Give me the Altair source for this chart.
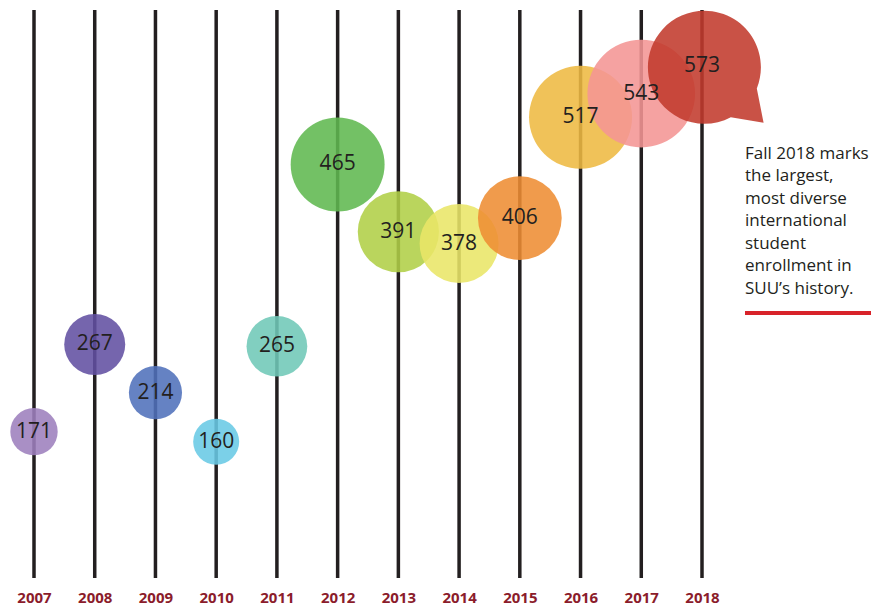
import altair as alt
import pandas as pd

years = [2007, 2008, 2009, 2010, 2011, 2012, 2013, 2014, 2015, 2016, 2017, 2018]
enrollment = [171, 267, 214, 160, 265, 465, 391, 378, 406, 517, 543, 573]
colors = ["#9d80bd", "#6250a2", "#5071bb", "#69cae5", "#6fc8b7", "#60b850",
          "#b0cf47", "#e9e668", "#ee8d33", "#eeb942", "#f49594", "#c13a2c"]
note_lines = ["Fall 2018 marks", "the largest,", "most diverse", "international",
              "student", "enrollment in", "SUU\u2019s history."]

df = pd.DataFrame({"year": years, "enrollment": enrollment})

# speech-bubble symbol for the highlighted year (unit circle + tail)
BUBBLE = "M0.97,0.39 L1.09,1.0 L0.51,0.9 A1,1,0,1,1,0.97,0.39 Z"

xs = alt.Scale(domain=[2007, 2018], nice=False, zero=False)
ys = alt.Scale(domain=[10, 635], nice=False, zero=False)

base = alt.Chart(df)
is_last = alt.datum.year == 2018

rules = base.mark_rule(color="#231f20", strokeWidth=3.5).encode(
    x=alt.X("year:Q", scale=xs,
            axis=alt.Axis(values=years, format="d", title=None, domain=False,
                          ticks=False, grid=False, labelFontSize=15,
                          labelFontWeight="bold", labelColor="#8b1c2b",
                          labelFont="Open Sans", labelPadding=12,
                          labelFlush=False, labelOverlap=False))
)

bubbles = base.mark_point(filled=True, opacity=0.88, strokeWidth=0).encode(
    x=alt.X("year:Q", scale=xs),
    y=alt.Y("enrollment:Q", scale=ys, axis=None),
    size=alt.Size("enrollment:Q",
                  scale=alt.Scale(type="pow", exponent=2, domain=[160, 573],
                                  range=[2116, 12769]),
                  legend=None),
    color=alt.Color("year:O", scale=alt.Scale(domain=years, range=colors),
                    legend=None),
    shape=alt.condition(is_last, alt.value(BUBBLE), alt.value("circle")),
)

labels = base.mark_text(font="Open Sans", fontSize=21, color="#231f20",
                        baseline="middle", align="center").encode(
    x=alt.X("year:Q", scale=xs),
    y=alt.Y("enrollment:Q", scale=ys),
    text="enrollment:Q",
)

note = alt.Chart(pd.DataFrame({"t": [note_lines]})).mark_text(
    font="Open Sans", fontSize=17, color="#231f20", align="left",
    baseline="top", lineHeight=22.5
).encode(
    x=alt.datum(2018.708, scale=xs),
    y=alt.datum(485.5, scale=ys),
    text="t",
)

underline = alt.Chart(pd.DataFrame({"a": [0]})).mark_rule(
    color="#d8232a", strokeWidth=4
).encode(
    x=alt.datum(2018.708, scale=xs),
    x2=alt.datum(2020.833),
    y=alt.datum(301.6, scale=ys),
)

chart = alt.layer(rules, bubbles, labels, note, underline).properties(
    width=668, height=568,
    padding={"left": 26, "top": 2, "right": 169, "bottom": 27},
    autosize="none",
    background="white",
).configure_view(stroke=None)

chart.save("out.html", embed_options={"renderer": "svg", "actions": False})
